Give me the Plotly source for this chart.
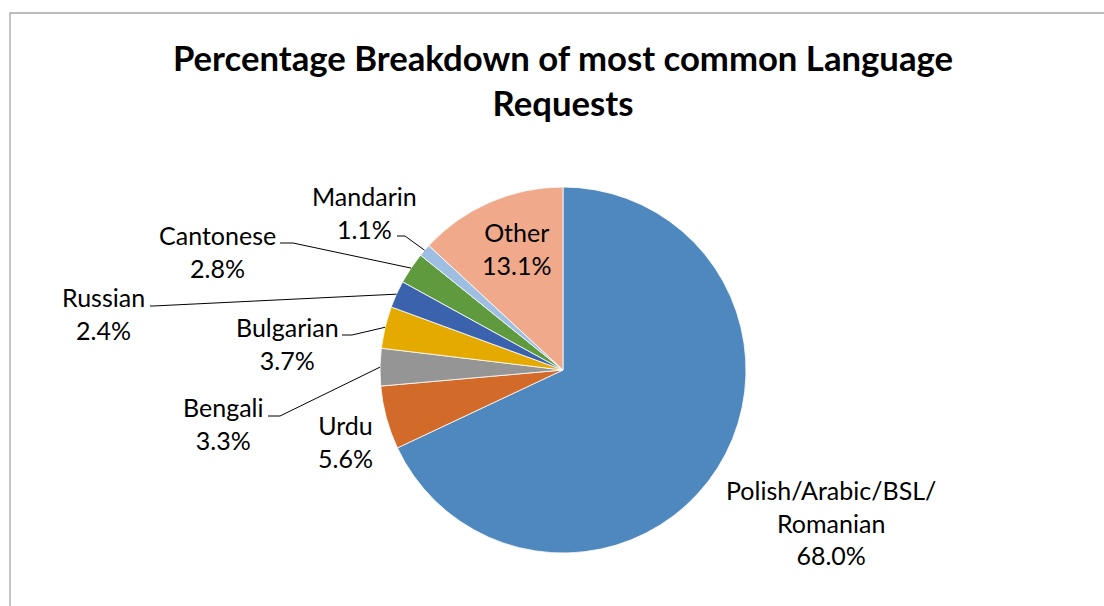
import math
import plotly.graph_objects as go

# ---- data ----
labels = ["Polish/Arabic/BSL/<br>Romanian", "Urdu", "Bengali", "Bulgarian",
          "Russian", "Cantonese", "Mandarin", "Other"]
names = ["Polish/Arabic/BSL/Romanian", "Urdu", "Bengali", "Bulgarian",
         "Russian", "Cantonese", "Mandarin", "Other"]
values = [68.0, 5.6, 3.3, 3.7, 2.4, 2.8, 1.1, 13.1]
colors = ["#4F88BE", "#D26B29", "#959595", "#E4AA00",
          "#3B63AD", "#5F9B3E", "#9EBEE2", "#F0A98B"]

W, H = 1104, 606
CX, CY, R = 563, 370, 183

def px(x):
    return x / W

def py(y):
    return 1 - y / H

fig = go.Figure()
fig.add_trace(go.Pie(
    labels=names, values=values, sort=False, direction="clockwise", rotation=0,
    marker=dict(colors=colors, line=dict(color="white", width=0.8)),
    textinfo="none", hoverinfo="skip", showlegend=False,
    domain=dict(x=[px(CX - R), px(CX + R)], y=[py(CY + R), py(CY - R)]),
))

# label placement (pixel centres) and leader-line starts/knees (layout only)
label_pos = {
    "Polish/Arabic/BSL/Romanian": (831, 522),
    "Urdu": (345, 441),
    "Bengali": (223, 423),
    "Bulgarian": (287, 343),
    "Russian": (103, 313),
    "Cantonese": (217, 251),
    "Mandarin": (364, 212),
    "Other": (516, 249),
}
leaders = {
    "Mandarin": ((397, 236), (405, 236)),
    "Cantonese": ((280, 243), (293, 243)),
    "Russian": ((150, 306), (153, 306)),
    "Bulgarian": ((342, 335), (352, 335)),
    "Bengali": ((268, 416), (280, 416)),
}

total = sum(values)
cum = 0.0
shapes = []
annotations = []
for name, lab, v in zip(names, labels, values):
    mid = (cum + v / 2) / total * 2 * math.pi
    cum += v
    sx = CX + R * math.sin(mid)
    sy = CY - R * math.cos(mid)
    lx, ly = label_pos[name]
    annotations.append(dict(
        x=px(lx), y=py(ly), xref="paper", yref="paper", showarrow=False,
        text=f"{lab}<br>{v:.1f}%", align="center",
        font=dict(family="Lato", size=25, color="#000000"),
        xanchor="center", yanchor="middle",
    ))
    if name in leaders:
        (x0, y0), (x1, y1) = leaders[name]
        path = (f"M {px(x0)} {py(y0)} L {px(x1)} {py(y1)} "
                f"L {px(sx)} {py(sy)}")
        shapes.append(dict(type="path", path=path, xref="paper", yref="paper",
                           line=dict(color="#000000", width=1)))

# chart frame
shapes.append(dict(type="rect", xref="paper", yref="paper",
                   x0=px(10), x1=1.02, y0=-0.02, y1=py(13),
                   line=dict(color="#A6A6A6", width=1.3)))

fig.update_layout(
    width=W, height=H, margin=dict(l=0, r=0, t=0, b=0),
    paper_bgcolor="white", plot_bgcolor="white",
    title=dict(text="Percentage Breakdown of most common Language<br>Requests",
               x=563 / W, xanchor="center", y=py(71), yanchor="middle",
               font=dict(family="Lato", size=34.7, color="#000000",
                         weight="bold")),
    shapes=shapes, annotations=annotations,
)

fig.write_html("out.html")
